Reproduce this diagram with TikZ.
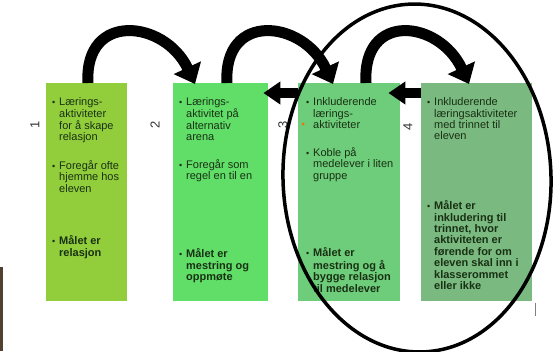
\documentclass[tikz,border=0pt]{standalone}
\usepackage{fontspec}
\setmainfont{Liberation Sans}
\usepackage{array}
\usetikzlibrary{arrows.meta}
\definecolor{gul}{RGB}{146,206,60}
\definecolor{lys}{RGB}{96,222,104}
\definecolor{mid}{RGB}{110,205,122}
\definecolor{graa}{RGB}{122,186,128}
\definecolor{tekst}{RGB}{25,48,20}
\definecolor{brun}{RGB}{80,66,46}
\newcommand\pkt[2][]{\begin{tabular}[t]{@{}p{7pt}@{}l@{}}{\small\textbullet} & \begin{tabular}[t]{@{}>{#1}l@{}}#2\end{tabular}\end{tabular}}

\begin{document}
\begin{tikzpicture}[x=1pt,y=-1pt,
  boks/.style={anchor=north west,minimum height=218pt,inner sep=0pt},
  punkt/.style={anchor=north west,inner sep=0pt,text=tekst,font=\fontsize{11}{11.4}\selectfont},
  nummer/.style={rotate=90,font=\fontsize{13}{14}\selectfont,text=black!80},
  bue/.style={line width=11pt,-{Triangle[width=29pt,length=18pt]}},
  pil/.style={line width=10pt,-{Triangle[width=22pt,length=17pt]}}]
\useasboundingbox (0,0) rectangle (559,351);
\fill[brun] (0,267) rectangle (3,351);

\node (b1) at (46,83) [boks,fill=gul,minimum width=81pt] {};
\node (b2) at (173,83) [boks,fill=lys,minimum width=95pt] {};
\node (b3) at (298,83) [boks,fill=mid,minimum width=102pt] {};
\node (b4) at (421,83) [boks,fill=graa,minimum width=111pt] {};

\node (n1) at (35,125) [nummer] {1};
\node (n2) at (155,125) [nummer] {2};
\node (n3) at (283,125) [nummer] {3};
\node (n4) at (408,127) [nummer] {4};

\node (t1a) at (52,97.5) [punkt] {\pkt{Lærings-\\aktiviteter\\for å skape\\relasjon}};
\node (t1b) at (52,160.5) [punkt] {\pkt{Foregår ofte\\hjemme hos\\eleven}};
\node (t1c) at (52,235.5) [punkt] {\pkt[\bfseries]{Målet er\\relasjon}};

\node (t2a) at (179,97.5) [punkt] {\pkt{Lærings-\\aktivitet på\\alternativ\\arena}};
\node (t2b) at (179,159.5) [punkt] {\pkt{Foregår som\\regel en til en}};
\node (t2c) at (179,248.5) [punkt] {\pkt[\bfseries]{Målet er\\mestring og\\oppmøte}};

\node (t3a) at (306,97.5) [punkt] {\pkt{Inkluderende\\lærings-\\aktiviteter}};
\node (t3b) at (306,147.5) [punkt] {\pkt{Koble på\\medelever i liten\\gruppe}};
\node (t3c) at (306,247.5) [punkt] {\pkt[\bfseries]{Målet er\\mestring og å\\bygge relasjon\\til medelever}};

\node (t4a) at (427,97.5) [punkt] {\pkt{Inkluderende\\læringsaktiviteter\\med trinnet til\\eleven}};
\node (t4b) at (427,200.5) [punkt] {\pkt[\bfseries]{Målet er\\inkludering til\\trinnet, hvor\\aktiviteten er\\førende for om\\eleven skal inn i\\klasserommet\\eller ikke}};

\fill[orange!80!red] (303,124) circle (1.5pt);

\draw[bue] ([xshift=42pt]b1.north west) .. controls +(-4,-72) and +(-30,-64) .. ([xshift=22pt,yshift=-1pt]b2.north west);
\draw[bue] ([xshift=54pt]b2.north west) .. controls +(-4,-72) and +(-30,-64) .. ([xshift=35pt,yshift=-1pt]b3.north west);
\draw[bue] ([xshift=68pt]b3.north west) .. controls +(-4,-72) and +(-30,-64) .. ([xshift=48pt,yshift=-1pt]b4.north west);

\draw[pil] ([yshift=-10pt]b3.north west) -- ([xshift=-5pt,yshift=-10pt]b2.north east);
\draw[pil] ([yshift=-10pt]b4.north west) -- ([xshift=-12pt,yshift=-10pt]b3.north east);

\draw[line width=3.5pt] (417,178) ellipse [x radius=134, y radius=174, rotate=2];
\draw[gray,line width=0.8pt] (535,303) -- (535,316);
\end{tikzpicture}
\end{document}
